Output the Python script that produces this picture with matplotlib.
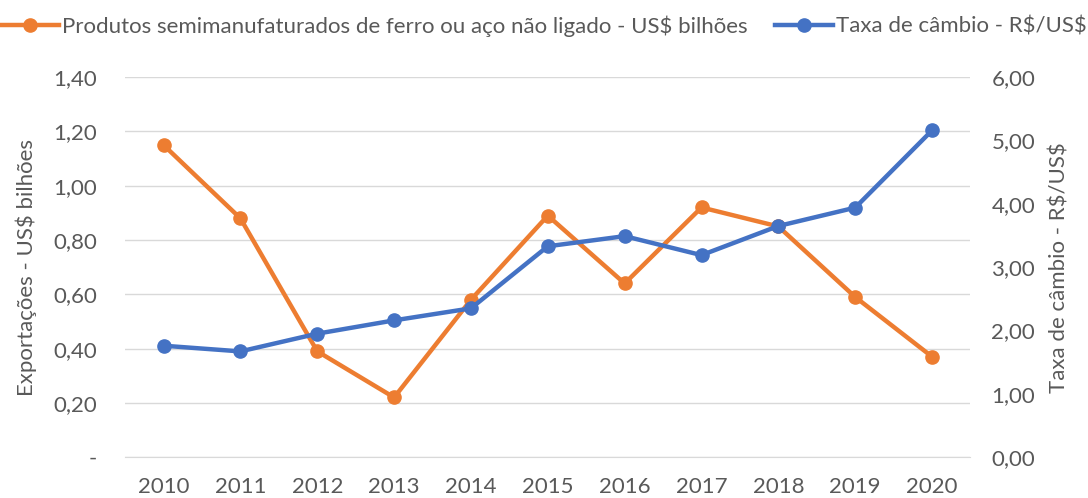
import matplotlib.pyplot as plt
from matplotlib.ticker import FuncFormatter

plt.rcParams['font.family'] = ['Lato', 'DejaVu Sans']

# Data
years = ['2010', '2011', '2012', '2013', '2014', '2015', '2016', '2017', '2018', '2019', '2020']
exports = [1.15, 0.88, 0.39, 0.22, 0.58, 0.89, 0.64, 0.92, 0.85, 0.59, 0.37]
fx_rate = [1.76, 1.67, 1.95, 2.16, 2.35, 3.33, 3.49, 3.19, 3.65, 3.94, 5.16]

orange = '#ED7D31'
blue = '#4472C4'
text_col = '#595959'

fig = plt.figure(figsize=(10.88, 4.98), dpi=100)
ax = fig.add_axes([0.115, 0.082, 0.777, 0.763])
ax2 = ax.twinx()

x = range(len(years))
l1, = ax.plot(x, exports, color=orange, lw=3.2, marker='o', ms=9.5,
              label=r'Produtos semimanufaturados de ferro ou aço não ligado - US\$ bilhões', zorder=3)
l2, = ax2.plot(x, fx_rate, color=blue, lw=3.2, marker='o', ms=9.5,
               label=r'Taxa de câmbio - R\$/US\$', zorder=3)

ax.set_xlim(-0.5, len(years) - 0.5)
ax.set_ylim(0, 1.4)
ax2.set_ylim(0, 6)
ax.set_yticks([i * 0.2 for i in range(8)])
ax2.set_yticks(range(7))
ax.set_xticks(list(x))
ax.set_xticklabels(years)

def left_fmt(v, pos):
    if abs(v) < 1e-9:
        return '-'
    return f'{v:.2f}'.replace('.', ',')

ax.yaxis.set_major_formatter(FuncFormatter(left_fmt))
ax2.yaxis.set_major_formatter(FuncFormatter(lambda v, p: f'{v:.2f}'.replace('.', ',')))

ax.grid(axis='y', color='#D9D9D9', lw=1)
ax.set_axisbelow(True)
for a in (ax, ax2):
    for s in a.spines.values():
        s.set_visible(False)
    a.tick_params(length=0, labelsize=16, colors=text_col)
ax.spines['bottom'].set_visible(True)
ax.spines['bottom'].set_color('#D9D9D9')
ax.tick_params(axis='x', pad=14)
ax.tick_params(axis='y', pad=20)
ax2.tick_params(axis='y', pad=15)

ax.set_ylabel(r'Exportações - US\$ bilhões', fontsize=16, color=text_col, labelpad=12)
ax2.set_ylabel(r'Taxa de câmbio - R\$/US\$', fontsize=16, color=text_col, labelpad=10)

fig.legend(handles=[l1, l2], loc='upper center', bbox_to_anchor=(0.5, 1.01), ncol=2,
           frameon=False, fontsize=16, labelcolor=text_col, handlelength=2.6,
           handletextpad=0.15, columnspacing=1.2)

fig.savefig('out.png', dpi=100)
